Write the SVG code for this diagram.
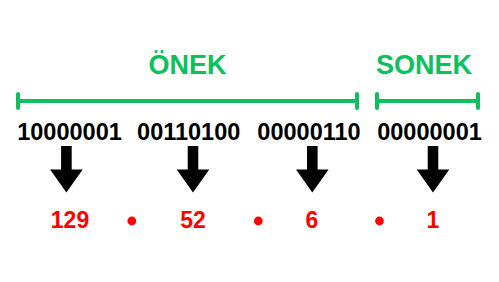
<svg xmlns="http://www.w3.org/2000/svg" width="499" height="282" viewBox="0 0 499 282">
  <style>
    .lbl { font-family: "Liberation Sans", Arial, sans-serif; font-weight: bold; font-size: 27px; fill: #0cc05e; text-anchor: middle; }
    .bin { font-family: "Liberation Sans", Arial, sans-serif; font-weight: bold; font-size: 23.5px; fill: #000; text-anchor: middle; }
    .dec { font-family: "Liberation Sans", Arial, sans-serif; font-weight: bold; font-size: 23px; fill: #ff0000; text-anchor: middle; }
    .brk { stroke: #0cc05e; stroke-width: 4; stroke-linecap: round; fill: none; }
    .dot { fill: #ff0000; }
  </style>
  <defs>
    <path id="arrow" d="M-5.3,0 H5.3 V23.5 H16.3 L0,46.5 L-16.3,23.5 H-5.3 Z" fill="#000"/>
  </defs>

  <!-- prefix / suffix labels and brackets -->
  <g id="prefix">
    <text class="lbl" x="187.5" y="74">ÖNEK</text>
    <path class="brk" d="M18,101 H357 M18,94 V108 M357,94 V108"/>
  </g>
  <g id="suffix">
    <text class="lbl" x="424" y="74">SONEK</text>
    <path class="brk" d="M377,101 H478 M377,94 V108 M478,94 V108"/>
  </g>

  <!-- binary octets -->
  <g id="octet1"><text class="bin" x="69.5" y="140">10000001</text></g>
  <g id="octet2"><text class="bin" x="188.7" y="140">00110100</text></g>
  <g id="octet3"><text class="bin" x="309" y="140">00000110</text></g>
  <g id="octet4"><text class="bin" x="429.5" y="140">00000001</text></g>

  <!-- conversion arrows -->
  <g id="connectors">
    <use href="#arrow" x="66.4" y="146"/>
    <use href="#arrow" x="193" y="146"/>
    <use href="#arrow" x="312.3" y="146"/>
    <use href="#arrow" x="433" y="146"/>
  </g>

  <!-- decimal values -->
  <g id="dec1"><text class="dec" x="70" y="228.3">129</text></g>
  <g id="dec2"><text class="dec" x="193" y="228.3">52</text></g>
  <g id="dec3"><text class="dec" x="312" y="228.3">6</text></g>
  <g id="dec4"><text class="dec" x="433" y="228.3">1</text></g>

  <!-- separators -->
  <g id="separators">
    <circle class="dot" cx="131.8" cy="221" r="4.4"/>
    <circle class="dot" cx="258.3" cy="221" r="4.4"/>
    <circle class="dot" cx="379.5" cy="221" r="4.4"/>
  </g>
</svg>
